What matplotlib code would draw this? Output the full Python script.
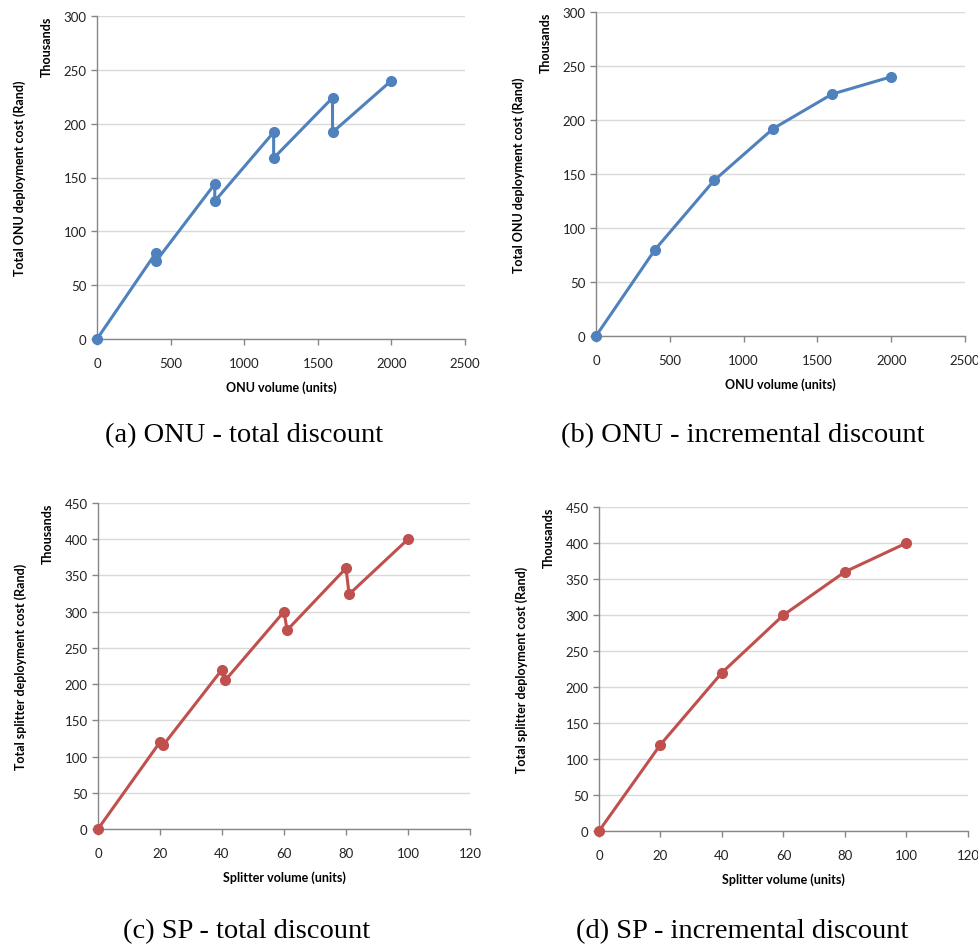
import matplotlib
matplotlib.use("Agg")
import matplotlib.pyplot as plt

# ONU (in thousands of Rand)
onu_total_x = [0, 400, 400, 800, 800, 1200, 1200, 1600, 1600, 2000]
onu_total_y = [0, 80, 72, 144, 128, 192, 168, 224, 192, 240]
onu_incr_x = [0, 400, 800, 1200, 1600, 2000]
onu_incr_y = [0, 80, 144, 192, 224, 240]

# splitters (in thousands of Rand)
sp_total_x = [0, 20, 21, 40, 41, 60, 61, 80, 81, 100]
sp_total_y = [0, 120, 115.5, 220, 205, 300, 274.5, 360, 324, 400]
sp_incr_x = [0, 20, 40, 60, 80, 100]
sp_incr_y = [0, 120, 220, 300, 360, 400]

captions = ["(a) ONU - total discount", "(b) ONU - incremental discount",
            "(c) SP - total discount", "(d) SP - incremental discount"]

BLUE = "#4F81BD"
RED = "#C0504D"
W, H = 979, 945

plt.rcParams['font.family'] = ['Lato', 'DejaVu Sans']

fig = plt.figure(figsize=(W / 100, H / 100), dpi=100)


def px_axes(x0, y0, x1, y1):
    return fig.add_axes([x0 / W, 1 - y1 / H, (x1 - x0) / W, (y1 - y0) / H])


def style(ax, xlim, xstep, ylim, ystep, xlabel, ylabel):
    ax.set_xlim(*xlim)
    ax.set_ylim(*ylim)
    ax.set_xticks(range(xlim[0], xlim[1] + 1, xstep))
    ax.set_yticks(range(ylim[0], ylim[1] + 1, ystep))
    ax.grid(axis='y', color='#D9D9D9', linewidth=1)
    ax.set_axisbelow(True)
    for s in ['top', 'right']:
        ax.spines[s].set_visible(False)
    for s in ['left', 'bottom']:
        ax.spines[s].set_color('#868686')
        ax.spines[s].set_linewidth(1)
    ax.tick_params(axis='both', colors='#868686', labelcolor='#222222',
                   labelsize=9.5, length=4, width=1)
    ax.tick_params(axis='x', pad=9)
    ax.set_xlabel(xlabel, fontsize=9, fontweight='bold', labelpad=8)
    ax.set_ylabel(ylabel, fontsize=9, fontweight='bold', labelpad=27)
    ax.text(-0.135, 1.0, "Thousands", transform=ax.transAxes, rotation=90,
            fontsize=9, fontweight='bold', ha='center', va='top')


def draw(ax, x, y, color):
    ax.plot(x, y, color=color, linewidth=2.2, marker='o', markersize=7,
            clip_on=False, zorder=3)


ax_a = px_axes(97, 17, 465, 340)
draw(ax_a, onu_total_x, onu_total_y, BLUE)
style(ax_a, (0, 2500), 500, (0, 300), 50, "ONU volume (units)",
      "Total ONU deployment cost (Rand)")

ax_b = px_axes(596, 13, 965, 337)
draw(ax_b, onu_incr_x, onu_incr_y, BLUE)
style(ax_b, (0, 2500), 500, (0, 300), 50, "ONU volume (units)",
      "Total ONU deployment cost (Rand)")

ax_c = px_axes(98, 504, 470, 830)
draw(ax_c, sp_total_x, sp_total_y, RED)
style(ax_c, (0, 120), 20, (0, 450), 50, "Splitter volume (units)",
      "Total splitter deployment cost (Rand)")

ax_d = px_axes(599, 508, 968, 832)
draw(ax_d, sp_incr_x, sp_incr_y, RED)
style(ax_d, (0, 120), 20, (0, 450), 50, "Splitter volume (units)",
      "Total splitter deployment cost (Rand)")

cap_pos = [(244, 436), (743, 436), (247, 932), (742, 932)]
for txt, (cx, cy) in zip(captions, cap_pos):
    fig.text(cx / W, 1 - cy / H, txt, ha='center', va='center',
             fontsize=20.5, family=['Liberation Serif', 'DejaVu Serif'])

fig.savefig("out.png", dpi=100)
